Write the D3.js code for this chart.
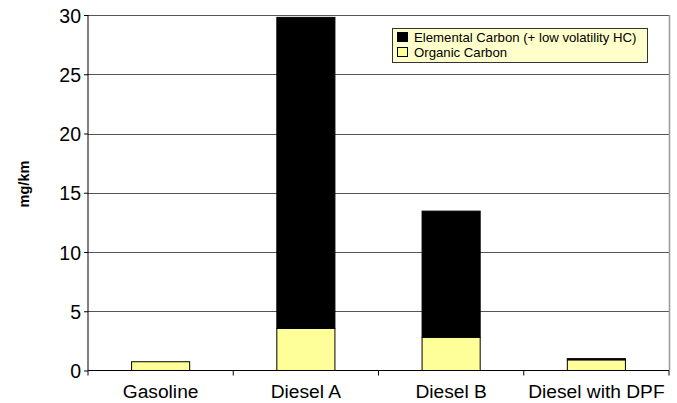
<!DOCTYPE html>
<html><head><meta charset="utf-8">
<script src="https://cdn.jsdelivr.net/npm/d3@7"></script>
<style>body{margin:0;background:#fff}svg{display:block;font-family:"Liberation Sans",Arial,sans-serif}</style>
</head><body><svg id="c" width="677" height="403"></svg>
<script>
const categories = ["Gasoline", "Diesel A", "Diesel B", "Diesel with DPF"];
const organicCarbon = [0.74, 3.55, 2.8, 0.9];
const elementalCarbon = [0, 26.25, 10.65, 0.1];
const seriesNames = ["Elemental Carbon (+ low volatility HC)", "Organic Carbon"];
const yTicks = [0, 5, 10, 15, 20, 25, 30];
const yLabel = "mg/km";

const svg = d3.select("#c");
const m = {l: 88, r: 669, t: 15, b: 370.5};
const x = d3.scaleBand().domain(categories).range([m.l, m.r]).paddingInner(0.6).paddingOuter(0.3);
const xb = d3.scaleBand().domain(categories).range([m.l, m.r]);
const y = d3.scaleLinear().domain([0, 30]).range([m.b, m.t]);

// gridlines
svg.append("g").selectAll("line").data(yTicks.filter(d => d > 0)).join("line")
  .attr("x1", m.l).attr("x2", m.r).attr("y1", d => Math.round(y(d)) + 0.5).attr("y2", d => Math.round(y(d)) + 0.5)
  .attr("stroke", "#555").attr("stroke-width", 1);
// right border
svg.append("line").attr("x1", m.r + 0.5).attr("x2", m.r + 0.5).attr("y1", m.t).attr("y2", m.b)
  .attr("stroke", "#999").attr("stroke-width", 1.5);

const data = categories.map((c, i) => ({c, oc: organicCarbon[i], ec: elementalCarbon[i]}));
const g = svg.append("g");
g.selectAll(".oc").data(data).join("rect")
  .attr("x", d => x(d.c)).attr("width", x.bandwidth())
  .attr("y", d => y(d.oc)).attr("height", d => y(0) - y(d.oc))
  .attr("fill", "#ffff99").attr("stroke", "#000").attr("stroke-width", 1);
g.selectAll(".ec").data(data.filter(d => d.ec > 0)).join("rect")
  .attr("x", d => x(d.c)).attr("width", x.bandwidth())
  .attr("y", d => y(d.oc + d.ec)).attr("height", d => y(d.oc) - y(d.oc + d.ec))
  .attr("fill", "#000").attr("stroke", "#000").attr("stroke-width", 1);

// y axis
const ya = svg.append("g").attr("transform", `translate(${m.l},0)`)
  .call(d3.axisLeft(y).tickValues(yTicks).tickSize(4).tickPadding(3));
ya.select(".domain").attr("stroke", "#000").attr("d", `M-0,${m.t}V${m.b}`);
ya.selectAll(".tick line").attr("stroke", "#000");
ya.selectAll("text").attr("font-size", 19.5).attr("fill", "#000").attr("dy", "0.36em");

// x axis
const xa = svg.append("g").attr("transform", `translate(0,${m.b})`);
xa.append("line").attr("x1", m.l).attr("x2", m.r).attr("stroke", "#000");
xa.selectAll(".tk").data(categories.map(c => xb(c)).concat([m.r])).join("line")
  .attr("x1", d => d).attr("x2", d => d).attr("y1", 0).attr("y2", 5).attr("stroke", "#000");
xa.selectAll("text").data(categories).join("text")
  .attr("x", d => xb(d) + xb.bandwidth() / 2).attr("y", 27.5)
  .attr("text-anchor", "middle").attr("font-size", 19.2).attr("fill", "#000").text(d => d);

// y label
svg.append("text").attr("transform", "translate(29,184) rotate(-90)")
  .attr("text-anchor", "middle").attr("font-size", 14.5).attr("font-weight", "bold").text(yLabel);

// legend
const lg = svg.append("g");
lg.append("rect").attr("x", 392.5).attr("y", 28.5).attr("width", 255).attr("height", 34)
  .attr("fill", "#ffffcc").attr("stroke", "#333");
const lcol = ["#000", "#ffff99"];
seriesNames.forEach((s, i) => {
  lg.append("rect").attr("x", 397.5).attr("y", 32.5 + i * 15).attr("width", 10).attr("height", 9)
    .attr("fill", lcol[i]).attr("stroke", "#000");
  lg.append("text").attr("x", 414).attr("y", 41.5 + i * 15.5).attr("font-size", 13.2).attr("fill", "#000").text(s);
});
</script></body></html>
